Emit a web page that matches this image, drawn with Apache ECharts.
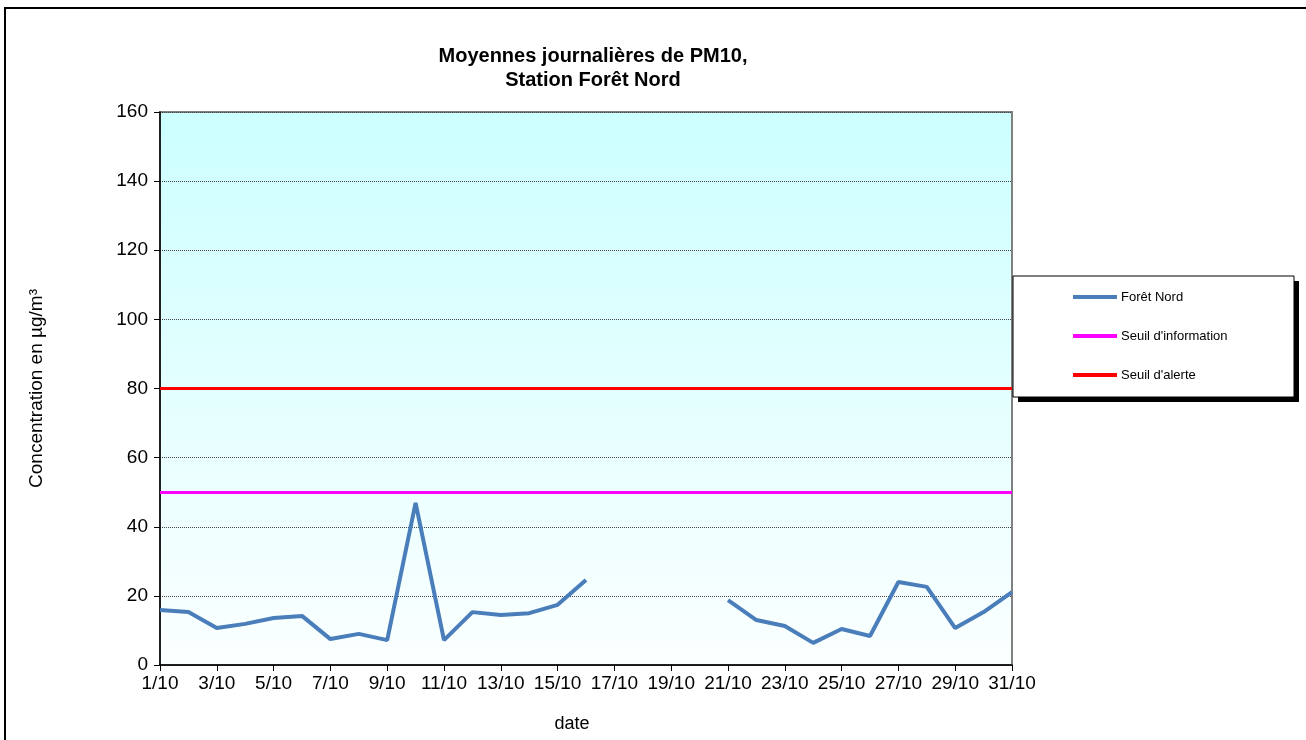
<!DOCTYPE html>
<html>
<head>
<meta charset="utf-8">
<script src="https://cdn.jsdelivr.net/npm/echarts@6/dist/echarts.min.js"></script>
<style>
  html, body {margin: 0; padding: 0; background: #fff;}
  #main {width: 1306px; height: 740px;}
</style>
</head>
<body>
<div id="main"></div>
<script>
  // jours d'octobre
  var days = ['1/10', '2/10', '3/10', '4/10', '5/10', '6/10', '7/10', '8/10', '9/10', '10/10',
    '11/10', '12/10', '13/10', '14/10', '15/10', '16/10', '17/10', '18/10', '19/10', '20/10',
    '21/10', '22/10', '23/10', '24/10', '25/10', '26/10', '27/10', '28/10', '29/10', '30/10', '31/10'];
  // moyennes journalieres PM10 (µg/m3), null = pas de mesure
  var foretNord = [15.9, 15.3, 10.7, 11.9, 13.6, 14.2, 7.5, 9.0, 7.2, 46.9,
    7.2, 15.3, 14.5, 15.0, 17.4, 24.6, null, null, null, null,
    18.8, 13.0, 11.3, 6.4, 10.4, 8.4, 24.0, 22.6, 10.7, 15.3, 21.1];
  var seuilInfo = 50;
  var seuilAlerte = 80;

  var font = '"Liberation Sans", Arial, sans-serif';
  var chart = echarts.init(document.getElementById('main'));
  chart.setOption({
    animation: false,
    textStyle: {fontFamily: font},
    title: {
      text: 'Moyennes journalières de PM10,\nStation Forêt Nord',
      left: 588, top: 39,
      textAlign: 'center',
      textStyle: {fontFamily: font, fontSize: 20, fontWeight: 'bold', color: '#000', lineHeight: 24}
    },
    graphic: [
      {type: 'rect', z: 0, silent: true,
        shape: {x: 5, y: 8, width: 1320, height: 760},
        style: {fill: 'none', stroke: '#000', lineWidth: 2}},
      // ombre de la legende
      {type: 'rect', z: 3, silent: true,
        shape: {x: 1018, y: 281, width: 281, height: 121},
        style: {fill: '#000'}},
      {type: 'rect', z: 3, silent: true,
        shape: {x: 1013, y: 276, width: 281, height: 121},
        style: {fill: '#fff', stroke: '#000', lineWidth: 1}}
    ],
    legend: {
      orient: 'vertical',
      left: 1068, top: 285,
      itemWidth: 44, itemHeight: 4, itemGap: 25,
      icon: 'rect',
      textStyle: {fontFamily: font, fontSize: 13, color: '#000', lineHeight: 14, padding: [0, 0, 0, -1]},
      data: ['Forêt Nord', "Seuil d'information", "Seuil d'alerte"]
    },
    grid: {
      left: 160, right: 294, top: 112, bottom: 75,
      show: true,
      borderColor: '#808080', borderWidth: 2,
      backgroundColor: new echarts.graphic.LinearGradient(0, 0, 0, 1, [
        {offset: 0, color: '#ccffff'},
        {offset: 1, color: '#fbffff'}
      ])
    },
    xAxis: {
      type: 'category',
      data: days,
      boundaryGap: false,
      name: 'date',
      nameLocation: 'middle',
      nameGap: 50,
      nameTextStyle: {fontFamily: font, fontSize: 18, color: '#000', padding: [0, 28, 0, 0]},
      axisLine: {lineStyle: {color: '#000', width: 1.5}},
      axisTick: {interval: 1, length: 6, lineStyle: {color: '#000'}},
      axisLabel: {interval: 1, fontFamily: font, fontSize: 19, color: '#000', margin: 9},
      splitLine: {show: false}
    },
    yAxis: {
      type: 'value',
      min: 0, max: 160, interval: 20,
      name: 'Concentration en µg/m³',
      nameLocation: 'middle',
      nameGap: 114,
      nameTextStyle: {fontFamily: font, fontSize: 19, color: '#000'},
      axisLine: {show: true, lineStyle: {color: '#000', width: 1.5}},
      axisTick: {show: true, length: 6, lineStyle: {color: '#000'}},
      axisLabel: {fontFamily: font, fontSize: 19, color: '#000', margin: 12},
      splitLine: {lineStyle: {color: '#444', type: 'dotted', width: 1}}
    },
    series: [
      {
        name: 'Forêt Nord',
        type: 'line',
        data: foretNord,
        showSymbol: false,
        symbol: 'none',
        connectNulls: false,
        color: '#4a7ebb',
        lineStyle: {color: '#4a7ebb', width: 4},
        z: 3
      },
      {
        name: "Seuil d'information",
        type: 'line',
        data: [],
        symbol: 'none',
        color: '#ff00ff',
        lineStyle: {color: '#ff00ff', width: 3},
        markLine: {
          silent: true, symbol: 'none', label: {show: false},
          lineStyle: {color: '#ff00ff', width: 3, type: 'solid'},
          data: [{yAxis: seuilInfo}]
        }
      },
      {
        name: "Seuil d'alerte",
        type: 'line',
        data: [],
        symbol: 'none',
        color: '#ff0000',
        lineStyle: {color: '#ff0000', width: 3},
        markLine: {
          silent: true, symbol: 'none', label: {show: false},
          lineStyle: {color: '#ff0000', width: 3, type: 'solid'},
          data: [{yAxis: seuilAlerte}]
        }
      }
    ]
  });
</script>
</body>
</html>
